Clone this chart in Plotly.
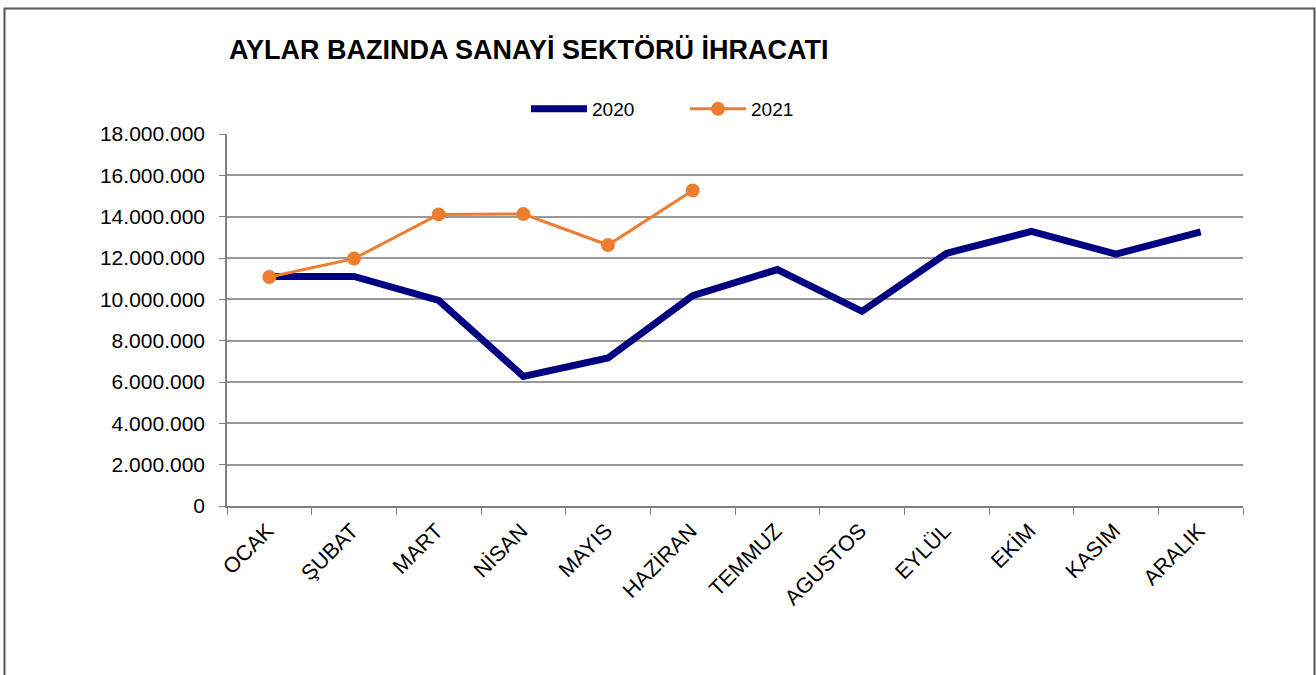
import plotly.graph_objects as go

months = ["OCAK", "ŞUBAT", "MART", "NİSAN", "MAYIS", "HAZİRAN",
          "TEMMUZ", "AGUSTOS", "EYLÜL", "EKİM", "KASIM", "ARALIK"]
values_2020 = [11100000, 11110000, 9950000, 6270000, 7160000, 10180000,
               11440000, 9420000, 12230000, 13290000, 12190000, 13260000]
values_2021 = [11080000, 11970000, 14110000, 14130000, 12630000, 15270000]
y_ticks = [0, 2000000, 4000000, 6000000, 8000000, 10000000,
           12000000, 14000000, 16000000, 18000000]
y_tick_labels = ["0", "2.000.000", "4.000.000", "6.000.000", "8.000.000",
                 "10.000.000", "12.000.000", "14.000.000", "16.000.000", "18.000.000"]

FONT = "Liberation Sans, Arial, sans-serif"

fig = go.Figure()
fig.add_trace(go.Scatter(
    x=months, y=values_2020, name="2020", mode="lines",
    line=dict(color="#000080", width=7),
))
fig.add_trace(go.Scatter(
    x=months[:len(values_2021)], y=values_2021, name="2021", mode="lines+markers",
    line=dict(color="#ED7D31", width=3),
    marker=dict(color="#ED7D31", size=14),
))

W, H = 1316, 675
L, R, T, B = 227, 1243, 134, 506
pw, ph = R - L, B - T

def px(x):
    return (x - L) / pw

def py(y):
    return (B - y) / ph

fig.update_layout(
    width=W, height=H,
    margin=dict(l=L, r=W - R, t=T, b=H - B),
    paper_bgcolor="white", plot_bgcolor="white",
    font=dict(family=FONT, color="#000000", size=20),
    title=dict(
        text="<b>AYLAR BAZINDA SANAYİ SEKTÖRÜ İHRACATI</b>",
        x=229 / W, xanchor="left", y=1 - 50 / H, yanchor="middle",
        font=dict(family=FONT, size=27, color="#000000"),
    ),
    showlegend=True,
    legend=dict(
        orientation="h", x=px(526), xanchor="left", y=py(109), yanchor="middle",
        bgcolor="rgba(0,0,0,0)", font=dict(family=FONT, size=19),
        itemwidth=56, entrywidth=88, traceorder="normal",
    ),
    xaxis=dict(
        type="category", showgrid=False, showline=True, linecolor="#808080",
        linewidth=1.5, ticks="outside", tickson="boundaries", ticklen=7,
        tickcolor="#808080", tickangle=-45, tickfont=dict(family=FONT, size=21.5),
        ticklabelstandoff=2, ticklabelshift=-2,
        range=[-0.5, 11.5],
    ),
    yaxis=dict(
        range=[0, 18000000], tickvals=y_ticks, ticktext=y_tick_labels,
        showgrid=True, gridcolor="#999999", gridwidth=1.5,
        showline=True, linecolor="#808080", linewidth=1.5,
        ticks="outside", ticklen=6, tickcolor="#808080",
        tickfont=dict(family=FONT, size=21), ticklabelstandoff=10,
        zeroline=False,
    ),
    shapes=[
        dict(type="rect", xref="paper", yref="paper",
             x0=px(475), x1=px(843), y0=py(144), y1=py(126),
             fillcolor="#ffffff", line=dict(width=0, color="#ffffff"),
             layer="above"),
        dict(type="rect", xref="paper", yref="paper",
             x0=px(4.5), x1=px(1314.5), y0=py(700), y1=py(8.5),
             fillcolor="rgba(0,0,0,0)", line=dict(color="#555555", width=2),
             layer="above"),
    ],
)

fig.write_html(
    "out.html",
    config={"displayModeBar": False},
    post_script="document.body.style.margin='0';document.body.style.overflow='hidden';",
)
